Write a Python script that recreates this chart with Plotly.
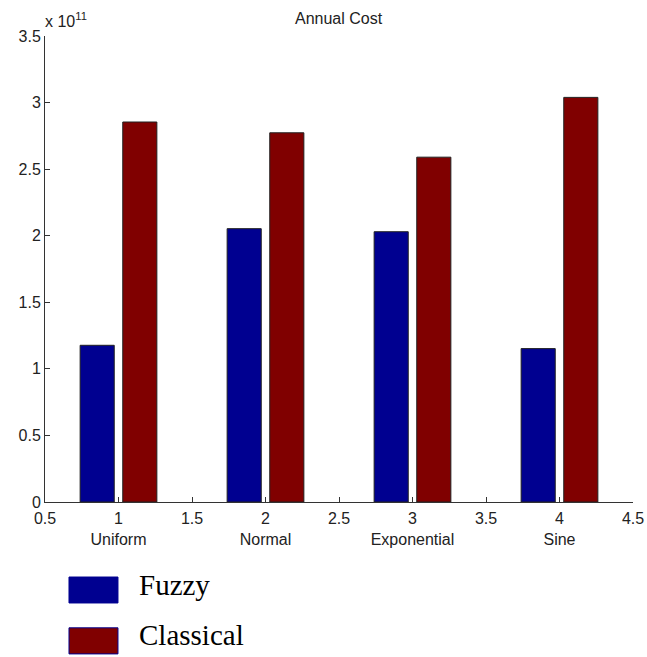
import plotly.graph_objects as go

# Data
categories = ["Uniform", "Normal", "Exponential", "Sine"]
positions = [1, 2, 3, 4]
fuzzy = [1.177e11, 2.053e11, 2.030e11, 1.152e11]
classical = [2.854e11, 2.773e11, 2.590e11, 3.039e11]

x_ticks = [0.5, 1, 1.5, 2, 2.5, 3, 3.5, 4, 4.5]
y_ticks = [0, 0.5e11, 1e11, 1.5e11, 2e11, 2.5e11, 3e11, 3.5e11]

BLUE = "#000090"
RED = "#800000"
AXIS = "#333333"
AX_FONT = dict(family="Liberation Sans, Arial, sans-serif", size=16, color="#222222")

fig = go.Figure()
fig.add_trace(go.Bar(x=positions, y=fuzzy, name="Fuzzy",
                     marker=dict(color=BLUE, line=dict(color="#202020", width=1))))
fig.add_trace(go.Bar(x=positions, y=classical, name="Classical",
                     marker=dict(color=RED, line=dict(color="#202020", width=1))))

# tick labels: numbers, with the category name on a second line under the integers
def fmt(v):
    return f"{v:g}"

x_text = []
for t in x_ticks:
    if t in positions:
        x_text.append(fmt(t) + "<br>" + categories[positions.index(t)])
    else:
        x_text.append(fmt(t))

y_text = [fmt(v / 1e11) for v in y_ticks]

fig.update_layout(
    width=647, height=657,
    margin=dict(l=45, r=14, t=36, b=155),
    plot_bgcolor="white", paper_bgcolor="white",
    barmode="group", bargap=0.42, bargroupgap=0.2,
    showlegend=False,
    xaxis=dict(range=[0.5, 4.5], tickvals=x_ticks, ticktext=x_text,
               ticks="inside", ticklen=5, tickcolor=AXIS, automargin=False,
               ticklabelstandoff=2,
               showline=True, linecolor=AXIS, linewidth=1,
               showgrid=False, zeroline=False, tickfont=AX_FONT),
    yaxis=dict(range=[0, 3.5e11], tickvals=y_ticks, ticktext=y_text,
               ticks="inside", ticklen=5, tickcolor=AXIS, automargin=False,
               showline=True, linecolor=AXIS, linewidth=1,
               showgrid=False, zeroline=False, tickfont=AX_FONT),
)

# title and exponent
fig.add_annotation(text="Annual Cost", xref="paper", yref="paper", x=0.5, y=1.0386,
                   showarrow=False, font=AX_FONT, xanchor="center", yanchor="middle")
fig.add_annotation(text="x 10<sup>11</sup>", xref="paper", yref="paper", x=-0.004, y=1.008,
                   showarrow=False, font=AX_FONT, xanchor="left", yanchor="bottom")

# legend drawn below the axes
legend_items = [("Fuzzy", BLUE, BLUE, -0.161, -0.2167, -0.178),
                ("Classical", RED, BLUE, -0.270, -0.326, -0.285)]
for label, fill, edge, y1, y0, yt in legend_items:
    fig.add_shape(type="rect", xref="paper", yref="paper",
                  x0=0.0408, x1=0.1241, y0=y0, y1=y1,
                  fillcolor=fill, line=dict(color=edge, width=1))
    fig.add_annotation(text=label, xref="paper", yref="paper", x=0.1565, y=yt,
                       showarrow=False, xanchor="left", yanchor="middle",
                       font=dict(family="Liberation Serif, Times New Roman, serif",
                                 size=29, color="black"))

# drop the browser's default page margin so the figure sits at the corner
fig.write_html("out.html", config={"displayModeBar": False},
               post_script="document.body.style.margin='0';")
